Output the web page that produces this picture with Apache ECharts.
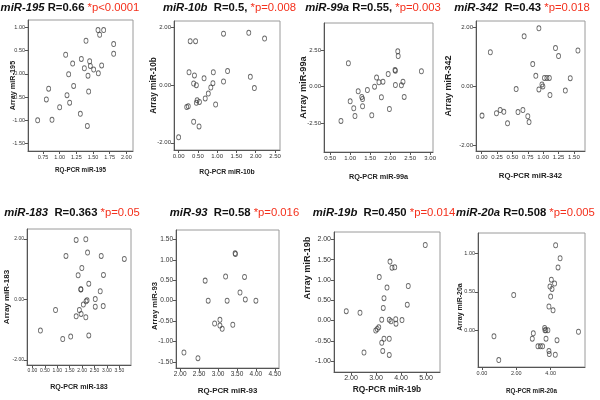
<!DOCTYPE html>
<html><head><meta charset="utf-8">
<script src="https://cdn.jsdelivr.net/npm/echarts@6/dist/echarts.min.js"></script>
<style>html,body{margin:0;background:#fff}#c{width:600px;height:400px}</style>
</head><body><div id="c"></div>
<script>
// ---- data ----
const names = ['miR-195','miR-10b','miR-99a','miR-342','miR-183','miR-93','miR-19b','miR-20a'];
const rTexts = ['R=0.66','R=0.5,','R=0.55,','R=0.43','R=0.363','R=0.58','R=0.450','R=0.508'];
const pTexts = ['*p<0.0001','*p=0.008','*p=0.003','*p=0.018','*p=0.05','*p=0.016','*p=0.014','*p=0.005'];
const gaps = [' ','  ',' ','  ','  ','  ','  ',' '];

const x195 = [1.575,1.66,1.60,1.395,1.81,1.81,1.09,1.325,1.45,1.46,1.195,1.63,1.37,1.51,1.135,1.58,1.425,1.21,0.835,1.435,1.11,0.80,1.15,1.00,1.31,0.67,0.885,1.415];
const y195 = [0.94,0.94,0.84,0.71,0.64,0.43,0.41,0.32,0.27,0.17,0.22,0.18,0.12,0.09,-0.01,0.01,-0.04,-0.26,-0.32,-0.38,-0.46,-0.55,-0.62,-0.72,-0.86,-1.00,-0.99,-1.12];

const x10b = [1.165,1.82,2.23,0.30,0.44,0.27,0.90,1.27,0.41,0.66,1.165,1.86,1.965,0.39,0.46,0.89,0.835,0.77,0.69,0.48,0.54,0.46,0.96,0.25,0.21,0.39,0.53,0.00];
const y10b = [1.79,1.82,1.62,1.53,1.53,0.45,0.45,0.49,0.34,0.24,0.13,0.29,-0.10,0.06,0.00,0.07,-0.08,-0.29,-0.46,-0.52,-0.58,-0.61,-0.67,-0.73,-0.76,-1.27,-1.43,-1.81];

const x99a = [0.955,2.19,2.20,2.12,2.13,2.78,1.95,1.66,1.82,1.72,1.61,2.32,2.28,2.13,1.43,1.20,1.29,1.31,2.35,1.78,1.00,1.09,1.31,1.98,1.54,1.12,0.77];
const y99a = [1.61,2.43,2.11,1.15,1.10,1.06,0.87,0.62,0.34,0.30,0.00,0.34,0.09,0.11,-0.23,-0.32,-0.71,-0.85,-0.71,-0.73,-1.01,-1.49,-1.35,-1.54,-1.97,-2.02,-2.36];

const x342 = [0.93,0.69,0.14,1.20,1.25,1.565,0.83,0.88,1.02,1.06,1.10,1.44,0.98,0.995,0.93,0.56,1.36,1.11,0.005,0.24,0.30,0.36,0.59,0.67,0.75,0.77,0.42];
const y342 = [1.97,1.70,1.16,1.30,1.03,1.22,0.76,0.36,0.29,0.29,0.29,0.28,0.07,0.00,-0.10,-0.09,-0.14,-0.29,-0.99,-0.91,-0.80,-0.86,-0.87,-0.80,-1.01,-1.21,-1.25];

const x183 = [1.76,2.15,2.22,1.35,2.77,3.70,1.99,1.84,2.86,2.27,1.95,1.95,2.73,2.53,2.20,2.16,2.05,2.53,2.85,0.93,1.89,1.96,1.76,2.15,0.32,1.54,2.27,1.22];
const y183 = [1.97,1.99,1.55,1.44,1.44,1.34,1.04,0.80,0.81,0.52,0.33,0.34,0.27,0.01,-0.03,-0.06,-0.17,-0.24,-0.22,-0.35,-0.35,-0.48,-0.56,-0.59,-1.03,-1.23,-1.19,-1.31];

const x93 = [3.46,3.45,2.66,3.20,3.70,3.58,3.72,4.00,2.74,3.24,3.05,2.91,3.05,3.11,3.39,2.10,2.47];
const y93 = [1.14,1.16,0.49,0.59,0.58,0.20,0.03,0.00,0.00,0.00,-0.47,-0.56,-0.61,-0.69,-0.59,-1.27,-1.41];

const x19b = [4.97,3.56,3.64,3.75,3.13,3.44,4.29,3.32,4.25,3.29,1.81,2.36,3.23,3.53,3.60,3.79,3.80,4.04,3.11,3.05,2.99,3.32,3.53,3.23,3.27,2.52,3.53];
const y19b = [1.86,1.45,1.30,1.31,1.07,0.81,0.85,0.55,0.39,0.31,0.23,0.19,0.02,0.02,-0.02,0.03,-0.08,0.01,-0.17,-0.21,-0.25,-0.45,-0.45,-0.55,-0.75,-0.79,-0.85];

const x20a = [4.29,4.55,4.43,4.04,4.23,3.96,4.08,1.85,4.00,3.90,4.14,3.65,3.67,3.72,3.84,0.70,2.99,2.93,3.73,4.37,5.62,3.26,3.40,3.53,3.90,3.92,4.27,0.98];
const y20a = [1.11,0.94,0.82,0.66,0.61,0.57,0.54,0.46,0.44,0.31,0.26,0.03,0.00,0.00,0.00,-0.08,-0.04,-0.11,-0.11,-0.13,-0.02,-0.21,-0.21,-0.21,-0.27,-0.31,-0.32,-0.39];

const xTicks = [
  [0.75,1.00,1.25,1.50,1.75,2.00],
  [0,0.5,1,1.5,2,2.5],
  [0.5,1,1.5,2,2.5,3],
  [0,0.25,0.5,0.75,1,1.25,1.5],
  [0,0.5,1,1.5,2,2.5,3,3.5],
  [2,2.5,3,3.5,4,4.5],
  [2,3,4,5],
  [0,2,4]
];
const yTicks = [
  [-1.5,-1,-0.5,0,0.5,1],
  [-2,0,2],
  [-2.5,0,2.5],
  [-2,0,2],
  [-2,0,2],
  [-1.5,-1,-0.5,0,0.5,1,1.5],
  [-1,-0.5,0,0.5,1,1.5,2],
  [0,0.5,1]
];
const xsAll = [x195,x10b,x99a,x342,x183,x93,x19b,x20a];
const ysAll = [y195,y10b,y99a,y342,y183,y93,y19b,y20a];

// ---- layout (pixel boxes, axis ranges, text sizes) ----
// tf: tick font, xf/yf: axis-name font, xg/yg: name gaps, yp: y-name shift (px, + = up)
const layout = [
  {l:28,  t:20,  r:133, b:151, xr:[0.525,2.10], yr:[-1.66,1.157], tf:5.5, xf:6.3, yf:7.3, tx:70,  ty:8,   yg:12,   xg:16,   yp:0},
  {l:174, t:21,  r:280, b:150, xr:[-0.12,2.63], yr:[-2.25,2.23], tf:6,   xf:6.8, yf:8.3, tx:229.5,ty:8,  yg:16,   xg:18.5, yp:0},
  {l:324, t:23,  r:433, b:152, xr:[0.346,3.07], yr:[-4.5,4.38],  tf:6,   xf:7.3, yf:9.2, tx:373, ty:8,   yg:15.7, xg:21,   yp:0},
  {l:476, t:21,  r:585, b:151, xr:[-0.093,1.68],yr:[-2.19,2.22], tf:6,   xf:7.8, yf:9,   tx:522, ty:8,   yg:22.5, xg:21,   yp:0},
  {l:27,  t:229, r:131, b:365, xr:[-0.22,3.97], yr:[-2.17,2.33], tf:5,   xf:7.1, yf:8,   tx:72,  ty:213, yg:16.3, xg:19,   yp:0},
  {l:176, t:230, r:279, b:368, xr:[1.89,4.61],  yr:[-1.65,1.73], tf:6.5, xf:7.9, yf:7.7, tx:234.5,ty:213,yg:17.6, xg:19,   yp:-7},
  {l:334, t:232, r:440, b:372, xr:[1.32,5.56],  yr:[-1.27,2.18], tf:7,   xf:8.4, yf:9.2, tx:384, ty:213, yg:22.4, xg:14,   yp:34},
  {l:478, t:233, r:585, b:367, xr:[-0.23,6.0],  yr:[-0.48,1.27], tf:5.5, xf:6.3, yf:7,   tx:525.5,ty:213,yg:14.5, xg:21.5, yp:-7}
];

const FONT = 'Liberation Sans, Arial, sans-serif';
const grids=[], xAxes=[], yAxes=[], series=[], graphics=[];
layout.forEach((L,i)=>{
  grids.push({left:L.l, top:L.t, width:L.r-L.l, height:L.b-L.t, show:true, borderColor:'#9a9a9a', borderWidth:1, containLabel:false});
  const common = (ticks)=>({
    nameMoveOverlap:false,
    axisLine:{show:true,onZero:false,lineStyle:{color:'#555',width:1}},
    axisTick:{show:true,length:3,customValues:ticks,lineStyle:{color:'#555'}},
    axisLabel:{customValues:ticks,formatter:v=>v.toFixed(2),fontSize:L.tf,color:'#333',margin:3,fontFamily:FONT},
    splitLine:{show:false}
  });
  const pad = L.yp>=0 ? [0,0,0,2*L.yp] : [0,-2*L.yp,0,0];
  xAxes.push(Object.assign({type:'value',gridIndex:i,min:L.xr[0],max:L.xr[1],
    name:'RQ-PCR '+names[i],nameLocation:'middle',nameGap:L.xg,
    nameTextStyle:{fontWeight:'bold',fontSize:L.xf,color:'#222',fontFamily:FONT}}, common(xTicks[i])));
  yAxes.push(Object.assign({type:'value',gridIndex:i,min:L.yr[0],max:L.yr[1],
    name:'Array '+names[i],nameLocation:'middle',nameGap:L.yg,
    nameTextStyle:{fontWeight:'bold',fontSize:L.yf,color:'#222',fontFamily:FONT,padding:pad}}, common(yTicks[i])));
  series.push({type:'scatter',xAxisIndex:i,yAxisIndex:i,
    data:xsAll[i].map((x,k)=>[x,ysAll[i][k]]),
    symbol:'circle',symbolSize:[4,5],
    itemStyle:{color:'rgba(255,255,255,0)',borderColor:'#444',borderWidth:0.9},
    emphasis:{disabled:true},silent:true});
  graphics.push({type:'text',x:L.tx,y:L.ty,style:{
    text:'{a|'+names[i]+'}'+gaps[i]+'{b|'+rTexts[i]+'} {c|'+pTexts[i]+'}',
    align:'center',verticalAlign:'middle',
    font:'bold 11.3px Liberation Sans',
    rich:{
      a:{fontStyle:'italic',fontWeight:'bold',fontSize:11.3,fill:'#111',fontFamily:FONT},
      b:{fontWeight:'bold',fontSize:11.3,fill:'#111',fontFamily:FONT},
      c:{fontSize:11.3,fill:'#f4301c',fontFamily:FONT}
    }}});
});

const chart = echarts.init(document.getElementById('c'),null,{renderer:'canvas'});
chart.setOption({animation:false,backgroundColor:'#fff',grid:grids,xAxis:xAxes,yAxis:yAxes,series:series,graphic:graphics});
</script></body></html>
